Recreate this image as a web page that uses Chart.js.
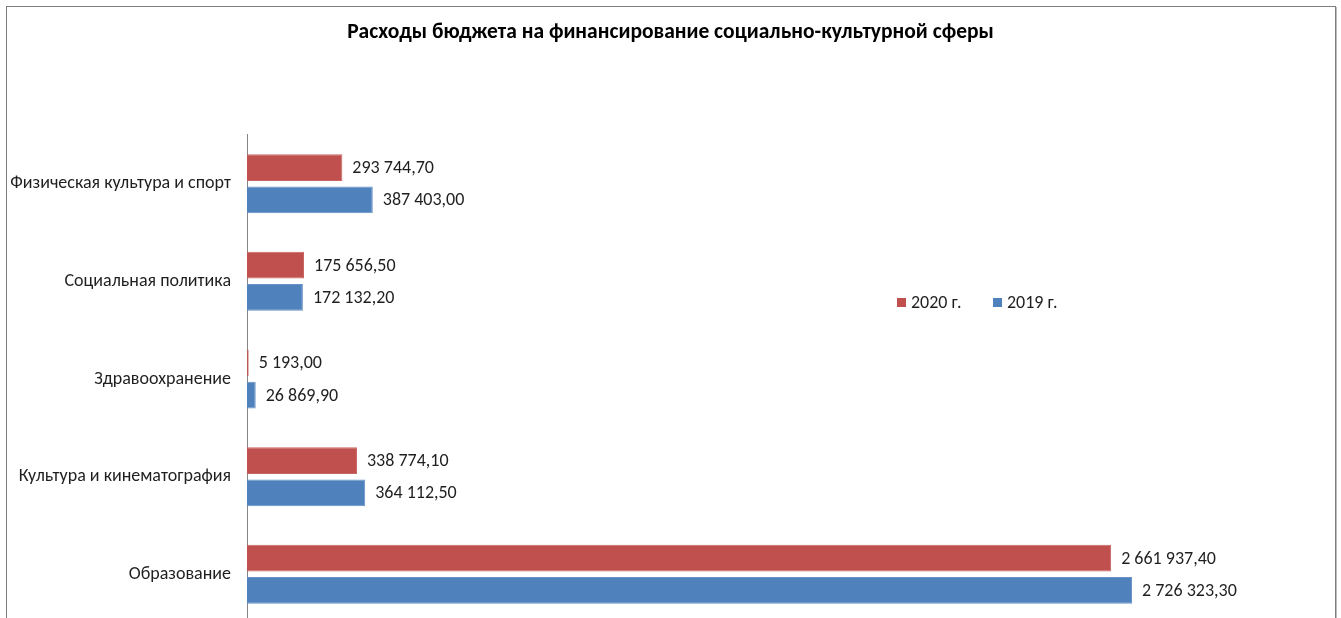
<!DOCTYPE html>
<html lang="ru">
<head>
<meta charset="utf-8">
<script src="https://cdn.jsdelivr.net/npm/chart.js@4/dist/chart.umd.min.js"></script>
<style>
  html, body { margin: 0; padding: 0; background: #fff; overflow: hidden; }
  #wrap { position: relative; width: 1341px; height: 618px; overflow: hidden; }
  #frame { position: absolute; left: 6px; top: 6px; width: 1328px; height: 700px;
           border: 1px solid #7f7f7f; box-shadow: 1px 1px 0 #bdbdbd; }
  #box { position: absolute; left: 0; top: 0; width: 1341px; height: 650px; }
</style>
</head>
<body>
<div id="wrap">
  <div id="frame"></div>
  <div id="box"><canvas id="chart-budget"></canvas></div>
</div>
<script>
const categories = [
  'Физическая культура и спорт',
  'Социальная политика',
  'Здравоохранение',
  'Культура и кинематография',
  'Образование',
];
const seriesNames = ['2020 г.', '2019 г.'];
const values2020 = [293744.70, 175656.50, 5193.00, 338774.10, 2661937.40];
const values2019 = [387403.00, 172132.20, 26869.90, 364112.50, 2726323.30];

const RED = '#C0504D';
const BLUE = '#4F81BD';
const FONT = 'Carlito, Calibri, "Open Sans", sans-serif';

// 2 726 323,30
function fmtRu(v) {
  const [int, dec] = v.toFixed(2).split('.');
  return int.replace(/\B(?=(\d{3})+(?!\d))/g, ' ') + ',' + dec;
}

const valueLabels = {
  id: 'valueLabels',
  afterDatasetsDraw(chart) {
    const ctx = chart.ctx;
    ctx.save();
    ctx.font = '18px ' + FONT;
    ctx.fillStyle = '#1f1f1f';
    ctx.textBaseline = 'middle';
    ctx.textAlign = 'left';
    chart.data.datasets.forEach((ds, i) => {
      chart.getDatasetMeta(i).data.forEach((bar, j) => {
        ctx.fillText(fmtRu(ds.data[j]), bar.x + 10, bar.y + 1);
      });
    });
    ctx.restore();
  },
};

const sideLegend = {
  id: 'sideLegend',
  afterDraw(chart) {
    const ctx = chart.ctx;
    ctx.save();
    ctx.font = '18px ' + FONT;
    ctx.textBaseline = 'middle';
    let x = 897;
    const y = 302;
    chart.data.datasets.forEach(ds => {
      ctx.fillStyle = ds.backgroundColor;
      ctx.fillRect(x, y - 4, 9, 9);
      ctx.fillStyle = '#1f1f1f';
      ctx.fillText(ds.label, x + 14, y + 1);
      x += 96;
    });
    ctx.restore();
  },
};

new Chart(document.getElementById('chart-budget'), {
  type: 'bar',
  data: {
    labels: categories,
    datasets: [
      { label: seriesNames[0], data: values2020, backgroundColor: RED, borderColor: '#c86562', borderWidth: 1 },
      { label: seriesNames[1], data: values2019, backgroundColor: BLUE, borderColor: '#6791c6', borderWidth: 1 },
    ],
  },
  options: {
    indexAxis: 'y',
    responsive: true,
    maintainAspectRatio: false,
    animation: false,
    categoryPercentage: 0.66,
    barPercentage: 0.83,
    layout: { padding: { left: 0, right: 0, top: 0, bottom: 6 } },
    plugins: {
      legend: { display: false },
      tooltip: { enabled: false },
      title: {
        display: true,
        text: 'Расходы бюджета на финансирование социально-культурной сферы',
        color: '#000',
        font: { family: FONT, size: 21.5, weight: 'bold', lineHeight: 1.2 },
        padding: { top: 20, bottom: 89 },
      },
    },
    scales: {
      x: {
        display: false,
        min: 0,
        max: 3370000,
      },
      y: {
        afterFit: s => { s.width = 247; },
        grid: { display: false, drawTicks: false },
        border: { display: true, color: '#868686', width: 1 },
        ticks: { color: '#1f1f1f', padding: 16, font: { family: FONT, size: 18 } },
      },
    },
  },
  plugins: [valueLabels, sideLegend],
});
</script>
</body>
</html>
